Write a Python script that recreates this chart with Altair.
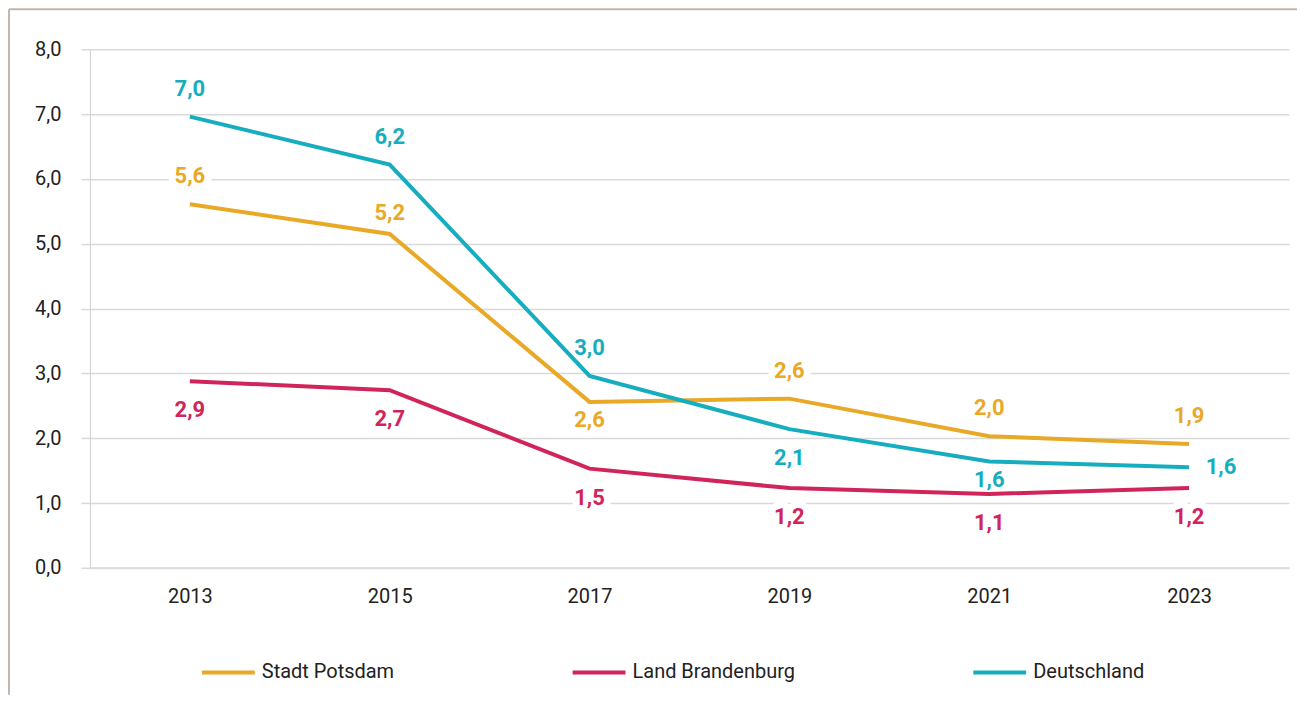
import altair as alt
import pandas as pd

years = ["2013", "2015", "2017", "2019", "2021", "2023"]
series = ["Stadt Potsdam", "Land Brandenburg", "Deutschland"]
colors = ["#E9A826", "#D0245A", "#16AEBF"]

potsdam = [5.61, 5.15, 2.56, 2.61, 2.03, 1.91]
brandenburg = [2.88, 2.74, 1.53, 1.23, 1.14, 1.23]
deutschland = [6.96, 6.22, 2.96, 2.14, 1.64, 1.55]

potsdam_labels = ["5,6", "5,2", "2,6", "2,6", "2,0", "1,9"]
brandenburg_labels = ["2,9", "2,7", "1,5", "1,2", "1,1", "1,2"]
deutschland_labels = ["7,0", "6,2", "3,0", "2,1", "1,6", "1,6"]

potsdam_place = ["above", "near_above", "near_below", "above", "above", "above"]
brandenburg_place = ["below", "below", "below", "below", "below", "below"]
deutschland_place = ["above", "above", "above", "below", "near_below", "right"]

placements = {
    "above": (0, -28),
    "near_above": (0, -21),
    "below": (0, 29),
    "near_below": (0, 18),
    "right": (32, 0),
}

rows = []
for name, vals, labs, plc in [
    (series[0], potsdam, potsdam_labels, potsdam_place),
    (series[1], brandenburg, brandenburg_labels, brandenburg_place),
    (series[2], deutschland, deutschland_labels, deutschland_place),
]:
    for y, v, l, p in zip(years, vals, labs, plc):
        rows.append({"year": y, "series": name, "value": v, "label": l, "place": p})
df = pd.DataFrame(rows)

FONT = "Roboto"

x_enc = alt.X(
    "year:N",
    sort=years,
    scale=alt.Scale(paddingInner=0, paddingOuter=0),
    axis=alt.Axis(
        title=None, labelAngle=0, labelAlign="center", ticks=False, domain=True,
        domainColor="#dcdcdc", domainWidth=2, labelFont=FONT, labelFontSize=20,
        labelColor="#222222", labelPadding=29, grid=False,
    ),
)
y_enc = alt.Y(
    "value:Q",
    scale=alt.Scale(domain=[0, 8], nice=False),
    axis=alt.Axis(
        title=None, values=[0, 1, 2, 3, 4, 5, 6, 7, 8],
        labelExpr="replace(format(datum.value, '.1f'), '.', ',')",
        grid=True, gridColor="#d9d9d9", gridWidth=1.5,
        ticks=True, tickSize=9, tickColor="#d9d9d9", tickWidth=1.5,
        domain=True, domainColor="#d0d0d0", domainWidth=1,
        labelFont=FONT, labelFontSize=20, labelColor="#222222", labelPadding=20,
    ),
)
color_enc = alt.Color(
    "series:N",
    scale=alt.Scale(domain=series, range=colors),
    sort=series,
    legend=alt.Legend(
        title=None, orient="none", direction="horizontal", legendX=110, legendY=595,
        symbolType="stroke", symbolSize=2800, symbolStrokeWidth=4,
        labelFont=FONT, labelFontSize=20, labelColor="#222222", labelLimit=0,
        columnPadding=170, labelOffset=5, padding=0,
    ),
)

base = alt.Chart(df)

lines = base.mark_line(strokeWidth=4).encode(x=x_enc, y=y_enc, color=color_enc)

halo_layers = []
text_layers = []
for pname, (dx, dy) in placements.items():
    sub = base.transform_filter(alt.datum.place == pname)
    halo_layers.append(
        sub.mark_text(
            font=FONT, fontSize=22, fontWeight="bold", dx=dx, dy=dy,
            stroke="white", strokeWidth=14, strokeJoin="round", fill="white",
        ).encode(x=alt.X("year:N", sort=years), y="value:Q", text="label:N")
    )
    text_layers.append(
        sub.mark_text(font=FONT, fontSize=22, fontWeight="bold", dx=dx, dy=dy).encode(
            x=alt.X("year:N", sort=years), y="value:Q", text="label:N",
            color=alt.Color("series:N", scale=alt.Scale(domain=series, range=colors), legend=None),
        )
    )

frame_top = alt.Chart(pd.DataFrame({"a": [0]})).mark_rule(color="#c2b6b0", strokeWidth=2).encode(
    x=alt.value(-81), x2=alt.value(1208), y=alt.value(-40)
)
frame_left = alt.Chart(pd.DataFrame({"a": [0]})).mark_rule(color="#c2b6b0", strokeWidth=2).encode(
    x=alt.value(-81), y=alt.value(-40), y2=alt.value(646)
)

chart = alt.layer(
    frame_top, frame_left, *halo_layers, lines, *text_layers
).properties(
    width=1200, height=519, padding=0
).configure_view(stroke=None)

chart.save("out.html", embed_options={"renderer": "svg", "actions": False})
